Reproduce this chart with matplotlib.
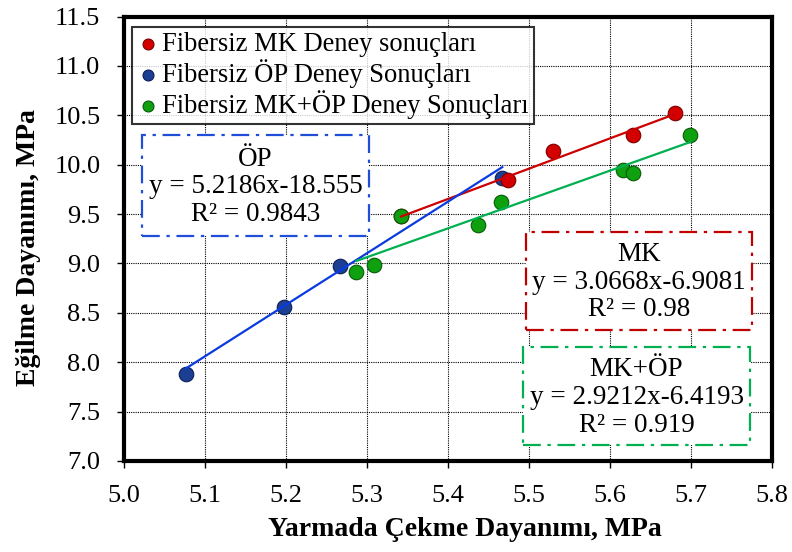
import numpy as np
import matplotlib
matplotlib.use("Agg")
import matplotlib.pyplot as plt
from matplotlib.patches import Rectangle

plt.rcParams['font.family'] = ['Liberation Serif', 'DejaVu Serif']

# Fibersiz MK
mk_x = [5.342, 5.474, 5.530, 5.629, 5.680]
mk_y = [9.476, 9.84, 10.14, 10.30, 10.52]
# Fibersiz OP
op_x = [5.0765, 5.198, 5.267, 5.467]
op_y = [7.88, 8.554, 8.97, 9.865]
# Fibersiz MK+OP
mkop_x = [5.287, 5.309, 5.342, 5.437, 5.465, 5.616, 5.628, 5.699]
mkop_y = [8.91, 8.987, 9.476, 9.39, 9.62, 9.95, 9.92, 10.30]

# trend line coefficients (slope, intercept) as printed on the chart
mk_fit = (3.0668, -6.9081)
op_fit = (5.2186, -18.555)
mkop_fit = (2.9212, -6.4193)

labels = ['Fibersiz MK Deney sonuçları', 'Fibersiz ÖP Deney Sonuçları',
	'Fibersiz MK+ÖP Deney Sonuçları']
box_texts = ['ÖP\ny = 5.2186x-18.555\nR² = 0.9843',
	'MK\ny = 3.0668x-6.9081\nR² = 0.98',
	'MK+ÖP\ny = 2.9212x-6.4193\nR² = 0.919']

x_ticks = [5.0, 5.1, 5.2, 5.3, 5.4, 5.5, 5.6, 5.7, 5.8]
y_ticks = [7.0, 7.5, 8.0, 8.5, 9.0, 9.5, 10.0, 10.5, 11.0, 11.5]


def trend(ax, xs, fit, color):
	xx = np.array([min(xs), max(xs)])
	ax.plot(xx, fit[0] * xx + fit[1], color=color, lw=1.6, zorder=4)


def text_box(ax, rect, text, color):
	x0, y0, x1, y1 = rect
	ax.add_patch(Rectangle((x0, y0), x1 - x0, y1 - y0, transform=ax.transAxes,
		fill=True, facecolor='white', edgecolor=color, lw=1.6, linestyle=(0, (8, 3, 1.5, 3)),
		zorder=5, clip_on=False))
	ax.text((x0 + x1) / 2, (y0 + y1) / 2 - 0.003, text, transform=ax.transAxes, ha='center',
		va='center', fontsize=19.5, linespacing=1.15, zorder=6)


fig = plt.figure(figsize=(7.92, 5.52), dpi=100)
ax = fig.add_axes([0.1566, 0.1649, 0.8181, 0.8052])

ax.scatter(op_x, op_y, s=110, color='#1c3f94', edgecolors='#0a1f55', linewidths=0.8,
	zorder=3, label=labels[1])
ax.scatter(mk_x, mk_y, s=110, color='#d40000', edgecolors='#7a0000', linewidths=0.8,
	zorder=3, label=labels[0])
ax.scatter(mkop_x, mkop_y, s=110, color='#0fa00f', edgecolors='#055a05', linewidths=0.8,
	zorder=3, label=labels[2])

trend(ax, mk_x, mk_fit, '#cc0000')
trend(ax, op_x, op_fit, '#0a3be0')
trend(ax, mkop_x, mkop_fit, '#00b050')

ax.set_xlim(5.0, 5.8)
ax.set_ylim(7.0, 11.5)
ax.set_xticks(x_ticks)
ax.set_yticks(y_ticks)
ax.set_xticklabels(['%.1f' % v for v in x_ticks])
ax.set_yticklabels(['%.1f' % v for v in y_ticks])
ax.tick_params(labelsize=19, length=5, width=1, direction='out', pad=12)
ax.grid(True, color='black', linestyle=(0, (1, 1)), lw=0.8, zorder=0)
ax.set_axisbelow(True)
for s in ax.spines.values():
	s.set_linewidth(3)

ax.set_xlabel('Yarmada Çekme Dayanımı, MPa', fontsize=20, fontweight='bold')
ax.set_ylabel('Eğilme Dayanımı, MPa', fontsize=20, fontweight='bold')
ax.xaxis.set_label_coords(0.526, -0.125)
ax.yaxis.set_label_coords(-0.128, 0.48)

handles, labs = ax.get_legend_handles_labels()
order = [1, 0, 2]
leg = ax.legend([handles[i] for i in order], [labs[i] for i in order], loc='upper left',
	bbox_to_anchor=(0.013, 0.977), borderaxespad=0, fontsize=19.1, frameon=True,
	fancybox=False, handletextpad=0.15, handlelength=0.75, borderpad=0.2,
	labelspacing=0.08, markerscale=0.75)
leg.get_frame().set_edgecolor('black')
leg.get_frame().set_linewidth(1.5)
leg.set_zorder(7)

text_box(ax, (0.028, 0.506, 0.378, 0.733), box_texts[0], '#1f4fd8')
text_box(ax, (0.620, 0.295, 0.969, 0.516), box_texts[1], '#c00000')
text_box(ax, (0.616, 0.036, 0.966, 0.257), box_texts[2], '#00b050')

fig.savefig('out.png', dpi=100)
